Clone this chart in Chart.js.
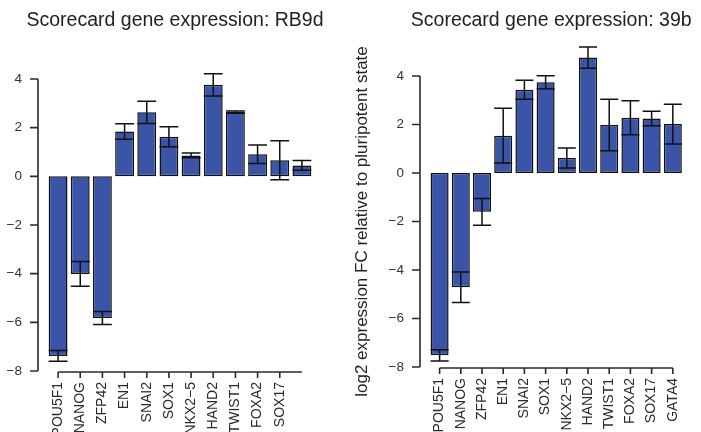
<!DOCTYPE html>
<html>
<head>
<meta charset="utf-8">
<script src="https://cdn.jsdelivr.net/npm/chart.js@4.4.1/dist/chart.umd.min.js"></script>
<style>
  html, body { margin: 0; padding: 0; background: #fff; width: 701px; height: 432px; overflow: hidden; }
  canvas { position: absolute; top: 0; }
  #left { left: 0; }
  #right { left: 350px; }
</style>
</head>
<body>
<canvas id="left" width="350" height="450"></canvas>
<canvas id="right" width="351" height="450"></canvas>
<script>
// gene names (left panel leaves its last label out)
const genes = ['POU5F1', 'NANOG', 'ZFP42', 'EN1', 'SNAI2', 'SOX1', 'NKX2\u22125', 'HAND2', 'TWIST1', 'FOXA2', 'SOX17', 'GATA4'];
const rb9dLabels = ['POU5F1', 'NANOG', 'ZFP42', 'EN1', 'SNAI2', 'SOX1', 'NKX2\u22125', 'HAND2', 'TWIST1', 'FOXA2', 'SOX17', ''];

// log2 FC means and error (+/-)
const rb9dMean = [-7.38, -4.01, -5.82, 1.84, 2.63, 1.63, 0.86, 3.76, 2.64, 0.91, 0.66, 0.45];
const rb9dErr  = [0.22, 0.51, 0.27, 0.32, 0.46, 0.41, 0.10, 0.46, 0.05, 0.38, 0.80, 0.20];
const b39Mean  = [-7.52, -4.71, -1.60, 1.54, 3.43, 3.74, 0.62, 4.76, 1.98, 2.28, 2.25, 2.02];
const b39Err   = [0.23, 0.63, 0.55, 1.13, 0.39, 0.27, 0.41, 0.44, 1.06, 0.70, 0.30, 0.82];

const yTickValues = [-8, -6, -4, -2, 0, 2, 4];
const yTitle = 'log2 expression FC relative to pluripotent state';

const FONT = '"Liberation Sans", Arial, Helvetica, sans-serif';
Chart.defaults.font.family = FONT;
Chart.defaults.color = '#333';

// error bars with caps, like R's arrows(code=3, angle=90)
const errBars = {
  id: 'errBars',
  afterDatasetsDraw(chart, args, opts) {
    const {ctx} = chart;
    const y = chart.scales.y;
    const vals = chart.data.datasets[0].data;
    ctx.save();
    ctx.strokeStyle = '#111';
    ctx.lineWidth = 1.5;
    chart.getDatasetMeta(0).data.forEach((bar, i) => {
      const lo = y.getPixelForValue(vals[i] - opts.errors[i]);
      const hi = y.getPixelForValue(vals[i] + opts.errors[i]);
      const hw = bar.width / 2;
      ctx.beginPath();
      ctx.moveTo(bar.x, lo); ctx.lineTo(bar.x, hi);
      ctx.moveTo(bar.x - hw, lo); ctx.lineTo(bar.x + hw, lo);
      ctx.moveTo(bar.x - hw, hi); ctx.lineTo(bar.x + hw, hi);
      ctx.stroke();
    });
    ctx.restore();
  }
};

// detached R style axes + panel title
const rAxes = {
  id: 'rAxes',
  afterDraw(chart, args, opts) {
    const {ctx, chartArea} = chart;
    const x = chart.scales.x, y = chart.scales.y;
    ctx.save();
    ctx.strokeStyle = '#2a2a2a';
    ctx.lineWidth = 1.6;
    ctx.beginPath();
    const ax = chartArea.left - 9;
    const tp = y.ticks.map(t => y.getPixelForValue(t.value));
    ctx.moveTo(ax, Math.min(...tp)); ctx.lineTo(ax, Math.max(...tp));
    tp.forEach(p => { ctx.moveTo(ax - 8, p); ctx.lineTo(ax, p); });
    const ay = chartArea.bottom + 1;
    const labels = chart.data.labels;
    ctx.moveTo(x.getPixelForValue(0), ay);
    ctx.lineTo(x.getPixelForValue(labels.length - 1), ay);
    labels.forEach((l, i) => {
      if (!l) return;
      const px = x.getPixelForValue(i);
      ctx.moveTo(px, ay); ctx.lineTo(px, ay + 6);
    });
    ctx.stroke();
    ctx.fillStyle = '#222';
    ctx.font = '19.5px ' + FONT;
    ctx.textAlign = 'center';
    ctx.textBaseline = 'alphabetic';
    ctx.fillText(opts.text, (chartArea.left + chartArea.right) / 2 - 5, 26);
    ctx.restore();
  }
};

function makeChart(el, labels, means, errs, title, yWidth, xHeight, pad, showYTitle) {
  return new Chart(el, {
    type: 'bar',
    data: {
      labels: labels,
      datasets: [{
        data: means,
        backgroundColor: '#3a54a8',
        borderColor: '#111',
        borderWidth: 1.5,
        borderSkipped: false,
        barPercentage: 0.85,
        categoryPercentage: 1,
        clip: false
      }]
    },
    options: {
      responsive: false,
      animation: false,
      layout: { padding: pad },
      plugins: {
        legend: { display: false },
        tooltip: { enabled: false },
        errBars: { errors: errs },
        rAxes: { text: title }
      },
      scales: {
        x: {
          grid: { display: false, drawTicks: false },
          border: { display: false },
          ticks: {
            autoSkip: false, minRotation: 90, maxRotation: 90, padding: 11,
            color: '#2a2a2a', font: { size: 14 }
          },
          afterFit: s => { s.height = xHeight; }
        },
        y: {
          min: -8, max: 4,
          grid: { display: false, drawTicks: false },
          border: { display: false },
          afterBuildTicks: s => { s.ticks = yTickValues.map(v => ({ value: v })); },
          ticks: {
            padding: 25, color: '#333', font: { size: 13.5 },
            callback: v => String(v).replace('-', '\u2212')
          },
          title: {
            display: showYTitle, text: yTitle, color: '#222',
            font: { size: 17 }, padding: { top: 2, bottom: 0 }
          },
          afterFit: s => { s.width = yWidth; }
        }
      }
    },
    plugins: [errBars, rAxes]
  });
}

makeChart(document.getElementById('left'), rb9dLabels, rb9dMean, rb9dErr,
  'Scorecard gene expression: RB9d', 47, 79, { left: 0, right: 37, top: 79, bottom: 0 }, false);
makeChart(document.getElementById('right'), genes, b39Mean, b39Err,
  'Scorecard gene expression: 39b', 79, 83, { left: 0, right: 9, top: 76, bottom: 0 }, true);
</script>
</body>
</html>
